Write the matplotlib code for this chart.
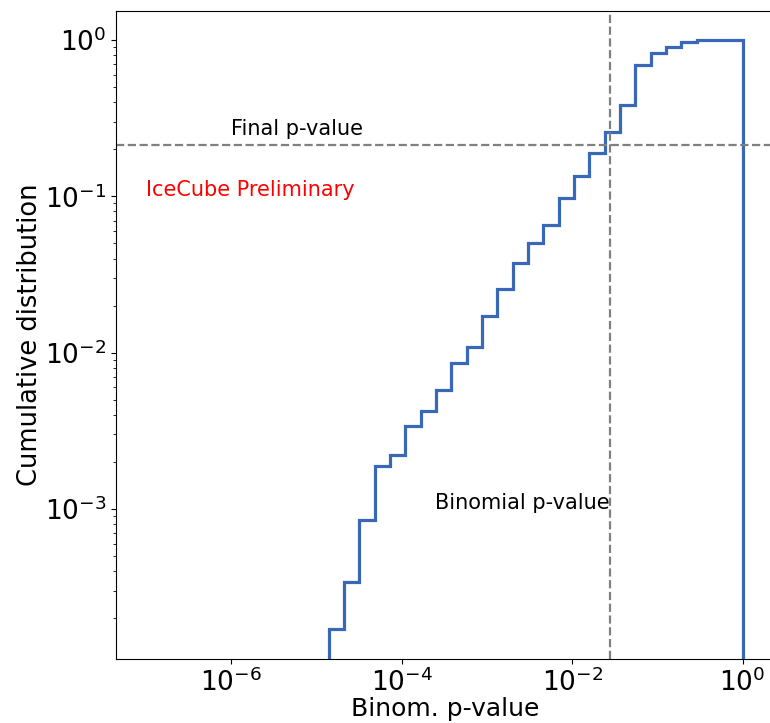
import numpy as np
import matplotlib
matplotlib.use("Agg")
import matplotlib.pyplot as plt

# bin edges (log10) and cumulative fraction per bin
log_edges = np.linspace(-4.86, 0.0, 28)
cum_frac = [0.00017, 0.00034, 0.00085, 0.00188, 0.00221, 0.00339, 0.00425,
            0.00576, 0.00853, 0.0108, 0.0172, 0.0255, 0.0373, 0.050, 0.0655,
            0.098, 0.134, 0.188, 0.259, 0.384, 0.69, 0.82, 0.906, 0.975,
            1.0, 1.0, 1.0]
final_p = 0.213
binom_p = 0.0276

fig = plt.figure(figsize=(7.7, 7.23), dpi=100)
ax = fig.add_axes([0.1506, 0.0885, 0.8558, 0.8963])

ax.stairs(cum_frac, 10 ** log_edges, baseline=1e-9, color="#3a68b8", lw=2.3)
ax.axhline(final_p, color="gray", ls="--", lw=1.6)
ax.axvline(binom_p, color="gray", ls="--", lw=1.6)

ax.set_xscale("log")
ax.set_yscale("log")
ax.set_xlim(10 ** -7.355, 10 ** 0.38)
ax.set_ylim(1.1e-4, 1.53)
ax.set_xticks([1e-6, 1e-4, 1e-2, 1e0])
ax.xaxis.set_minor_locator(matplotlib.ticker.NullLocator())
ax.tick_params(labelsize=19)

ax.text(1e-6, 0.245, "Final p-value", fontsize=15, va="baseline")
ax.text(1e-7, 0.1, "IceCube Preliminary", fontsize=15, color="red", va="baseline")
ax.text(binom_p, 1e-3, "Binomial p-value", fontsize=15, ha="right", va="baseline")

ax.set_xlabel("Binom. p-value", fontsize=18, labelpad=0)
ax.set_ylabel("Cumulative distribution", fontsize=18.5, labelpad=1)

fig.savefig("out.png", dpi=100)
